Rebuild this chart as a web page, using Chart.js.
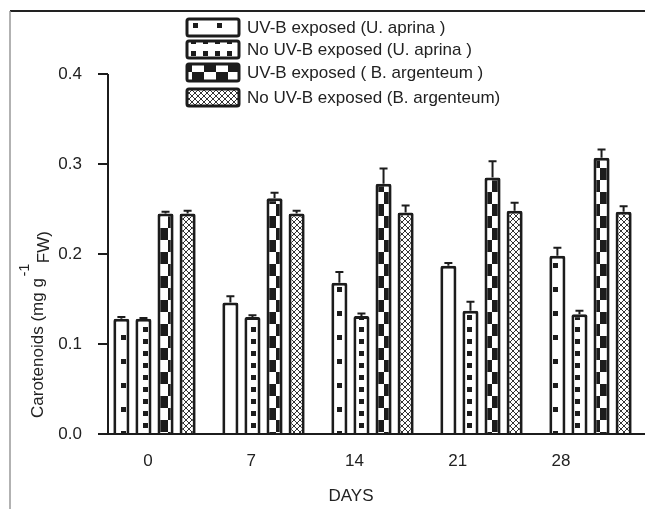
<!DOCTYPE html>
<html><head><meta charset="utf-8">
<script src="https://cdn.jsdelivr.net/npm/chart.js@4/dist/chart.umd.min.js"></script>
<style>html,body{margin:0;padding:0;background:#fff}#wrap{width:645px;height:509px;position:relative}</style>
</head><body><div id="wrap"><canvas id="c"></canvas></div>
<script>
// ---- data ----
const days = ['0','7','14','21','28'];
const seriesNames = ['UV-B exposed (U. aprina )','No UV-B exposed (U. aprina )','UV-B exposed ( B. argenteum )','No UV-B exposed (B. argenteum)'];
const uvAprina      = [0.128,0.146,0.168,0.187,0.198];
const uvAprinaErr   = [0.002,0.007,0.012,0.003,0.009];
const noUvAprina    = [0.128,0.130,0.131,0.137,0.133];
const noUvAprinaErr = [0.001,0.002,0.003,0.010,0.004];
const uvArg         = [0.245,0.262,0.278,0.285,0.307];
const uvArgErr      = [0.002,0.006,0.017,0.018,0.009];
const noUvArg       = [0.245,0.245,0.246,0.248,0.247];
const noUvArgErr    = [0.003,0.003,0.008,0.009,0.006];
const yTicks = [0,0.1,0.2,0.3,0.4];
const xTitle = 'DAYS';
const yTitleMain = 'Carotenoids (mg g';
const yTitleSup = '-1';
const yTitleSub = 'FW)';

const INK = '#1c1c1c';
const TXT = '#222';
const FONT = '"Liberation Sans", Arial, sans-serif';
const FS = 17;

function makePattern(kind){
  const c = document.createElement('canvas');
  const g = c.getContext('2d');
  if(kind===0){
    c.width=24;c.height=24;g.fillStyle='#fff';g.fillRect(0,0,24,24);
    g.fillStyle=INK;g.fillRect(1,0,5,4);g.fillRect(1,23,5,1);
  } else if(kind===1){
    c.width=12;c.height=12;g.fillStyle='#fff';g.fillRect(0,0,12,12);
    g.fillStyle=INK;g.fillRect(0,3,4,5);g.fillRect(11,3,1,5);
  } else if(kind===2){
    c.width=24;c.height=24;g.fillStyle='#fff';g.fillRect(0,0,24,24);
    g.fillStyle=INK;g.fillRect(0,0,12,12);g.fillRect(12,12,12,12);
  } else {
    c.width=6;c.height=6;g.fillStyle='#fff';g.fillRect(0,0,6,6);
    g.strokeStyle='#333';g.lineWidth=1;
    g.beginPath();g.moveTo(0,0);g.lineTo(6,6);g.moveTo(6,0);g.lineTo(0,6);g.stroke();
  }
  return g.createPattern(c,'repeat');
}
const patterns=[0,1,2,3].map(makePattern);
const values=[uvAprina,noUvAprina,uvArg,noUvArg];
const errors=[uvAprinaErr,noUvAprinaErr,uvArgErr,noUvArgErr];

const datasets = values.map((v,i)=>({
  label: seriesNames[i], data: v, errs: errors[i],
  backgroundColor: patterns[i], borderColor: INK, borderWidth: 3,
  borderRadius: 2, borderSkipped: 'start',
  barPercentage: 0.73, categoryPercentage: 0.81
}));

const X2MIN=-3.254, X2MAX=33.695;

const decor = {
  id:'decor',
  afterDatasetsDraw(chart){
    const ctx=chart.ctx, y=chart.scales.y;
    ctx.save();
    ctx.strokeStyle=INK; ctx.lineWidth=2;
    chart.data.datasets.forEach((ds,di)=>{
      const meta=chart.getDatasetMeta(di);
      meta.data.forEach((bar,i)=>{
        const top=y.getPixelForValue(ds.data[i]);
        const cap=y.getPixelForValue(ds.data[i]+ds.errs[i]);
        ctx.beginPath();ctx.moveTo(bar.x,top);ctx.lineTo(bar.x,cap);
        ctx.moveTo(bar.x-4,cap);ctx.lineTo(bar.x+4,cap);ctx.stroke();
      });
    });
    ctx.restore();
  },
  afterDraw(chart){
    const ctx=chart.ctx, a=chart.chartArea, y=chart.scales.y;
    const axX=a.left+8;
    ctx.save();
    // frame
    ctx.strokeStyle='#222';ctx.lineWidth=2;
    ctx.beginPath();ctx.moveTo(10,11);ctx.lineTo(645,11);ctx.stroke();
    ctx.strokeStyle='#999';ctx.lineWidth=1.5;
    ctx.beginPath();ctx.moveTo(10,11);ctx.lineTo(10,509);ctx.stroke();
    // axes
    ctx.strokeStyle=INK;ctx.lineWidth=2;
    ctx.beginPath();ctx.moveTo(axX,y.getPixelForValue(yTicks[yTicks.length-1]));ctx.lineTo(axX,a.bottom);ctx.stroke();
    ctx.beginPath();ctx.moveTo(a.left-2,a.bottom);ctx.lineTo(a.right,a.bottom);ctx.stroke();
    yTicks.forEach(t=>{const py=y.getPixelForValue(t);ctx.beginPath();ctx.moveTo(a.left-2,py);ctx.lineTo(axX,py);ctx.stroke();});
    // titles
    ctx.fillStyle=TXT;
    ctx.font=FS+'px '+FONT;ctx.textAlign='center';ctx.textBaseline='middle';
    ctx.fillText(xTitle,351,496);
    ctx.save();ctx.translate(43,418);ctx.rotate(-Math.PI/2);
    ctx.textAlign='left';ctx.textBaseline='alphabetic';
    ctx.fillText(yTitleMain,0,0);
    let w=ctx.measureText(yTitleMain).width;
    ctx.font='14px '+FONT;ctx.fillText(yTitleSup,w+2,-14);
    ctx.font=FS+'px '+FONT;ctx.fillText(yTitleSub,w+15,6);
    ctx.restore();
    // legend
    const rows=[27,49,72,97];
    chart.data.datasets.forEach((ds,i)=>{
      const cy=rows[i];
      ctx.fillStyle=ds.backgroundColor;
      ctx.fillRect(187,cy-8,52,17);
      ctx.strokeStyle=INK;ctx.lineWidth=3;
      ctx.beginPath();ctx.roundRect(187,cy-8,52,17,2);ctx.stroke();
      ctx.fillStyle=TXT;ctx.font=FS+'px '+FONT;ctx.textAlign='left';ctx.textBaseline='middle';
      ctx.fillText(ds.label,247,cy+1);
    });
    ctx.restore();
  }
};

new Chart(document.getElementById('c'),{
  type:'bar',
  data:{labels:days,datasets},
  options:{
    responsive:true,maintainAspectRatio:false,animation:false,
    layout:{padding:{top:74,left:0,right:0,bottom:0}},
    plugins:{legend:{display:false},tooltip:{enabled:false}},
    scales:{
      x:{type:'category',display:false,offset:true},
      x2:{type:'linear',position:'bottom',min:X2MIN,max:X2MAX,bounds:'data',offset:false,
        afterBuildTicks:s=>{s.ticks=days.map(d=>({value:+d}));s.min=X2MIN;s.max=X2MAX;},
        afterFit:s=>{s.height=75;},
        grid:{display:false,drawTicks:false,offset:false},border:{display:false},
        ticks:{padding:17,color:TXT,font:{family:FONT,size:FS},callback:v=>String(v),maxRotation:0,autoSkip:false}},
      y:{min:0,max:0.4,
        afterBuildTicks:s=>{s.ticks=yTicks.map(v=>({value:v}));},
        afterFit:s=>{s.width=100;},
        grid:{display:false,drawTicks:false},border:{display:false},
        ticks:{padding:18,color:TXT,font:{family:FONT,size:FS},callback:v=>v.toFixed(1)}}
    }
  },
  plugins:[decor]
});
</script></body></html>
